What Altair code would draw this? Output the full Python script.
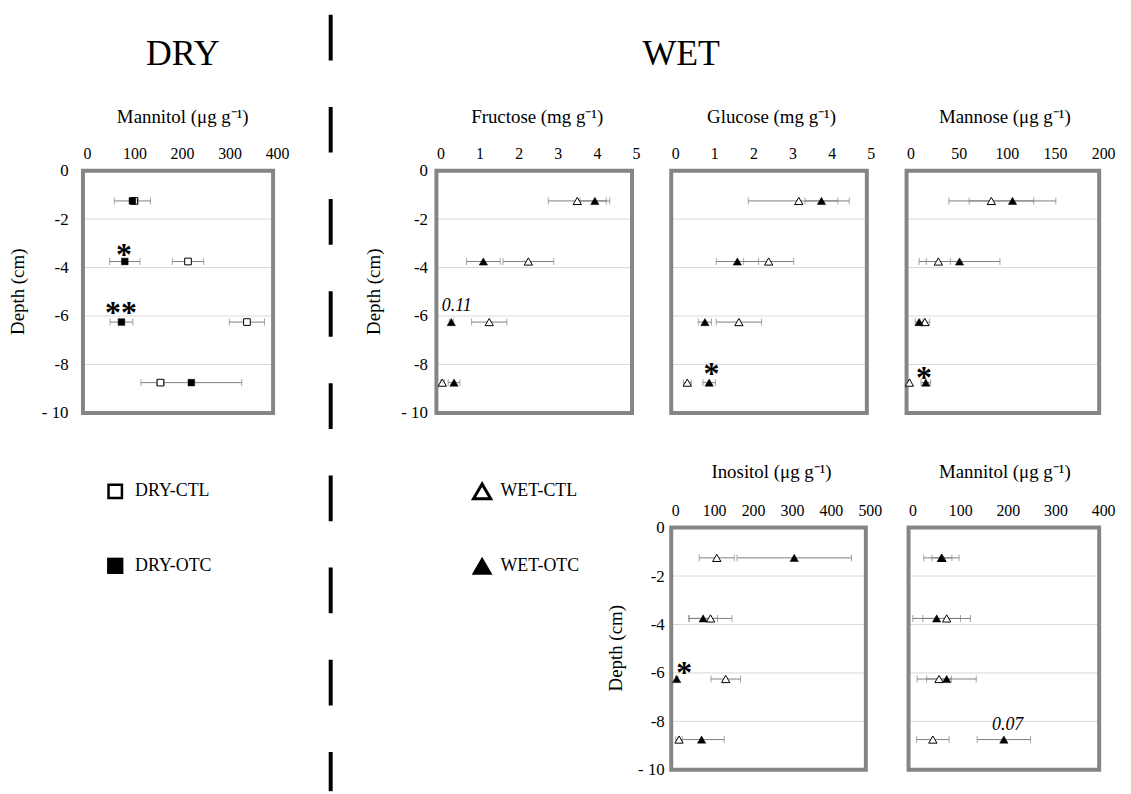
import altair as alt
import pandas as pd

FONT = "Liberation Serif"
OFF = 8  # page margin

depths = [-1.25, -3.75, -6.25, -8.75]

dry_mannitol_ctl = [108, 221, 345, 163]
dry_mannitol_ctl_se = [8, 33, 37, 8]
dry_mannitol_otc = [104, 88, 81, 228]
dry_mannitol_otc_se = [38, 32, 24, 106]

fructose_ctl = [3.6, 2.35, 1.35, 0.15]
fructose_ctl_se = [0.74, 0.65, 0.45, 0.05]
fructose_otc = [4.05, 1.2, 0.38, 0.45]
fructose_otc_se = [0.38, 0.43, 0.05, 0.15]

glucose_ctl = [3.26, 2.49, 1.73, 0.41]
glucose_ctl_se = [1.29, 0.64, 0.58, 0.1]
glucose_otc = [3.84, 1.69, 0.86, 0.97]
glucose_otc_se = [0.42, 0.54, 0.17, 0.16]

mannose_ctl = [88, 33, 19, 3]
mannose_ctl_se = [44, 12.5, 5, 1]
mannose_otc = [110, 55, 13, 20]
mannose_otc_se = [45, 42, 4, 5]

inositol_ctl = [117, 101, 140, 20]
inositol_ctl_se = [45, 55, 38, 8]
inositol_otc = [316, 82, 14, 78]
inositol_otc_se = [147, 37, 3, 58]

wet_mannitol_ctl = [70, 80, 64, 51]
wet_mannitol_ctl_se = [21, 50, 26, 34]
wet_mannitol_otc = [69, 59, 80, 200]
wet_mannitol_otc_se = [37, 50, 62, 56]

grid_depths = [-2, -4, -6, -8]
depth_ticks = [0, -2, -4, -6, -8, -10]

# annotations: (value, depth, text, kind)
dry_notes = [(86, -3.2, "*", "star"), (80, -5.6, "**", "star")]
fructose_notes = [(0.52, -5.6, "0.11", "p")]
glucose_notes = [(1.03, -8.1, "*", "star")]
mannose_notes = [(18, -8.28, "*", "star")]
inositol_notes = [(33, -5.72, "*", "star")]
wet_mannitol_notes = [(208, -8.13, "0.07", "p")]

GRAY = "#858585"
ERR = "#808080"

panels = [
    dict(domain=[0, 400], ticks=[0, 100, 200, 300, 400], x0=83.5, x1=275, y0=169, y1=413,
         ctl=dry_mannitol_ctl, ctl_se=dry_mannitol_ctl_se, otc=dry_mannitol_otc, otc_se=dry_mannitol_otc_se,
         shape="square", msize=45, ylab=True, ypad=15, notes=dry_notes),
    dict(domain=[0, 5], ticks=[0, 1, 2, 3, 4, 5], x0=439.5, x1=636.5, y0=169, y1=413,
         ctl=fructose_ctl, ctl_se=fructose_ctl_se, otc=fructose_otc, otc_se=fructose_otc_se,
         shape="triangle-up", msize=70, ylab=True, ypad=9, notes=fructose_notes),
    dict(domain=[0, 5], ticks=[0, 1, 2, 3, 4, 5], x0=676, x1=873, y0=169, y1=413,
         ctl=glucose_ctl, ctl_se=glucose_ctl_se, otc=glucose_otc, otc_se=glucose_otc_se,
         shape="triangle-up", msize=70, ylab=False, ypad=9, notes=glucose_notes),
    dict(domain=[0, 200], ticks=[0, 50, 100, 150, 200], x0=913, x1=1107, y0=169, y1=413,
         ctl=mannose_ctl, ctl_se=mannose_ctl_se, otc=mannose_otc, otc_se=mannose_otc_se,
         shape="triangle-up", msize=70, ylab=False, ypad=9, notes=mannose_notes),
    dict(domain=[0, 500], ticks=[0, 100, 200, 300, 400, 500], x0=676, x1=872, y0=528.5, y1=772.5,
         ctl=inositol_ctl, ctl_se=inositol_ctl_se, otc=inositol_otc, otc_se=inositol_otc_se,
         shape="triangle-up", msize=70, ylab=True, ypad=7, notes=inositol_notes),
    dict(domain=[0, 400], ticks=[0, 100, 200, 300, 400], x0=915, x1=1107, y0=528.5, y1=772.5,
         ctl=wet_mannitol_ctl, ctl_se=wet_mannitol_ctl_se, otc=wet_mannitol_otc, otc_se=wet_mannitol_otc_se,
         shape="triangle-up", msize=70, ylab=False, ypad=9, notes=wet_mannitol_notes),
]


def panel_layers(p):
    xs = alt.Scale(domain=p["domain"], range=[p["x0"] - OFF, p["x1"] - OFF], nice=False, zero=False)
    ys = alt.Scale(domain=[-10, 0], range=[p["y1"] - OFF, p["y0"] - OFF], nice=False, zero=False)
    layers = []

    # grid lines
    gdf = pd.DataFrame({"y": grid_depths, "a": p["domain"][0], "b": p["domain"][1]})
    layers.append(alt.Chart(gdf).mark_rule(color="#d9d9d9", strokeWidth=1).encode(
        x=alt.X("a:Q", scale=xs, axis=None), x2="b:Q",
        y=alt.Y("y:Q", scale=ys, axis=None)))

    # frame + axes
    xaxis = alt.Axis(orient="top", values=p["ticks"], offset=-(p["y0"] - OFF), domain=False,
                     ticks=False, tickSize=0, grid=False, labelFont=FONT, labelFontSize=16,
                     labelColor="black", labelPadding=9, labelOffset=4, title=None,
                     labelFlush=False, labelOverlap=False)
    if p["ylab"]:
        yaxis = alt.Axis(orient="left", values=depth_ticks, offset=-(p["x0"] - OFF), domain=False,
                         ticks=False, tickSize=0, grid=False, labelFont=FONT, labelFontSize=17,
                         labelColor="black", labelPadding=p["ypad"], title=None,
                         labelFlush=False, labelOverlap=False,
                         labelExpr="datum.value == 0 ? '0' : datum.value == -10 ? '- 10' : '-' + (-datum.value)")
    else:
        yaxis = None
    fdf = pd.DataFrame({"a": [p["domain"][0]], "b": [p["domain"][1]], "c": [-10], "d": [0]})
    layers.append(alt.Chart(fdf).mark_rect(fillOpacity=0, stroke=GRAY, strokeWidth=4).encode(
        x=alt.X("a:Q", scale=xs, axis=xaxis), x2="b:Q",
        y=alt.Y("c:Q", scale=ys, axis=yaxis), y2="d:Q"))

    rows = []
    for trt, vals, ses in (("CTL", p["ctl"], p["ctl_se"]), ("OTC", p["otc"], p["otc_se"])):
        for d, v, s in zip(depths, vals, ses):
            rows.append({"trt": trt, "depth": d, "mean": v, "lo": v - s, "hi": v + s})
    df = pd.DataFrame(rows)

    # error bars
    layers.append(alt.Chart(df).mark_rule(color=ERR, strokeWidth=1).encode(
        x=alt.X("lo:Q", scale=xs, axis=None), x2="hi:Q",
        y=alt.Y("depth:Q", scale=ys, axis=None)))
    for end in ("lo", "hi"):
        layers.append(alt.Chart(df).mark_tick(color=ERR, orient="vertical", thickness=1, size=7).encode(
            x=alt.X(f"{end}:Q", scale=xs, axis=None),
            y=alt.Y("depth:Q", scale=ys, axis=None)))

    # markers
    layers.append(alt.Chart(df).transform_filter("datum.trt == 'CTL'").mark_point(
        shape=p["shape"], filled=True, fill="white", stroke="black", strokeWidth=1,
        size=p["msize"], opacity=1).encode(
        x=alt.X("mean:Q", scale=xs, axis=None),
        y=alt.Y("depth:Q", scale=ys, axis=None)))
    layers.append(alt.Chart(df).transform_filter("datum.trt == 'OTC'").mark_point(
        shape=p["shape"], filled=True, fill="black", stroke="black", strokeWidth=0.5,
        size=p["msize"], opacity=1).encode(
        x=alt.X("mean:Q", scale=xs, axis=None),
        y=alt.Y("depth:Q", scale=ys, axis=None)))

    # annotations
    ndf = pd.DataFrame(p["notes"], columns=["v", "depth", "txt", "kind"])
    stars = ndf[ndf.kind == "star"]
    ps = ndf[ndf.kind == "p"]
    if len(stars):
        layers.append(alt.Chart(stars).mark_text(font=FONT, fontSize=32, fontWeight="bold",
                                                 baseline="middle", align="center", dy=7,
                                                 color="black").encode(
            x=alt.X("v:Q", scale=xs, axis=None),
            y=alt.Y("depth:Q", scale=ys, axis=None),
            text="txt:N"))
    if len(ps):
        layers.append(alt.Chart(ps).mark_text(font=FONT, fontSize=18, fontStyle="italic",
                                              baseline="middle", align="center",
                                              color="black").encode(
            x=alt.X("v:Q", scale=xs, axis=None),
            y=alt.Y("depth:Q", scale=ys, axis=None),
            text="txt:N"))
    return layers


dummy = pd.DataFrame({"k": [0]})


def txt(s, x, y, size, angle=0, align="center"):
    kw = dict(font=FONT, fontSize=size, baseline="middle", align=align, color="black")
    if angle:
        kw["angle"] = angle
    return alt.Chart(dummy).mark_text(**kw).encode(
        x=alt.value(x - OFF), y=alt.value(y - OFF), text=alt.value(s))


def sym(shape, x, y, size, fill, sw):
    return alt.Chart(dummy).mark_point(shape=shape, filled=True, fill=fill, stroke="black",
                                       strokeWidth=sw, size=size, opacity=1).encode(
        x=alt.value(x - OFF), y=alt.value(y - OFF))


layers = []
for p in panels:
    layers.extend(panel_layers(p))

deco = [
    txt("DRY", 184, 52, 36),
    txt("WET", 686, 52, 36),
    txt("Mannitol (μg g⁻¹)", 184, 115, 19),
    txt("Fructose (mg g⁻¹)", 541, 115, 19),
    txt("Glucose (mg g⁻¹)", 777, 115, 19),
    txt("Mannose (μg g⁻¹)", 1012, 115, 19),
    txt("Inositol (μg g⁻¹)", 777, 473, 19),
    txt("Mannitol (μg g⁻¹)", 1012, 473, 19),
    txt("Depth (cm)", 18, 291, 19, angle=270),
    txt("Depth (cm)", 377, 291, 19, angle=270),
    txt("Depth (cm)", 620, 650, 19, angle=270),
    sym("square", 116, 492, 182, "white", 2.5),
    sym("square", 116, 567, 270, "black", 0),
    sym("triangle-up", 485.5, 492, 300, "white", 3),
    sym("triangle-up", 485.5, 567, 441, "black", 0),
    txt("DRY-CTL", 136, 492, 18, align="left"),
    txt("DRY-OTC", 136, 567, 18, align="left"),
    txt("WET-CTL", 504, 492, 18, align="left"),
    txt("WET-OTC", 504, 567, 18, align="left"),
    alt.Chart(dummy).mark_rule(color="black", strokeWidth=4, strokeDash=[46, 46.8]).encode(
        x=alt.value(333 - OFF), y=alt.value(12 - OFF), y2=alt.value(794 - OFF)),
]
layers.extend(deco)

chart = alt.layer(*layers).resolve_scale(x="independent", y="independent").properties(
    width=1123, height=786, padding=0,
    autosize=alt.AutoSizeParams(type="none"),
    background="white",
).configure_view(stroke=None).configure_axis(labelFont=FONT, labelColor="black")

chart.save("out.html", embed_options={"renderer": "svg", "actions": False})
